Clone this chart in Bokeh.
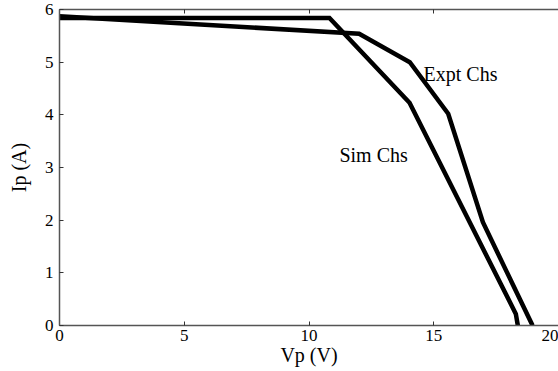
from bokeh.plotting import figure
from bokeh.models import Range1d, LinearAxis, FixedTicker, Label
from bokeh.embed import file_html
from bokeh.resources import INLINE

# Data
sim_v = [0.0, 10.82, 14.03, 18.29, 18.37]
sim_i = [5.84, 5.84, 4.23, 0.22, 0.0]
expt_v = [0.0, 12.01, 14.04, 15.58, 16.97, 18.96]
expt_i = [5.87, 5.54, 5.00, 4.02, 1.96, 0.0]
x_ticks = [0, 5, 10, 15, 20]
y_ticks = [0, 1, 2, 3, 4, 5, 6]

FONT = "Liberation Serif"

p = figure(width=558, height=371, output_backend="svg", toolbar_location=None,
           x_range=Range1d(0, 20.0), y_range=Range1d(0, 6.0),
           min_border_left=59, min_border_right=0, min_border_top=9,
           min_border_bottom=46, x_axis_location=None, y_axis_location=None)
p.grid.visible = False
p.outline_line_color = None
p.background_fill_color = "white"
p.border_fill_color = "white"

xa = LinearAxis(ticker=FixedTicker(ticks=x_ticks), axis_label="Vp (V)")
ya = LinearAxis(ticker=FixedTicker(ticks=y_ticks), axis_label="Ip (A)")
ta = LinearAxis(ticker=FixedTicker(ticks=x_ticks))
for ax in (xa, ya, ta):
    ax.axis_line_color = "#555555"
    ax.axis_line_width = 1.5
    ax.major_tick_line_color = "#333333"
    ax.major_tick_in = 4
    ax.major_tick_out = 0
    ax.minor_tick_line_color = None
    ax.major_label_text_font = FONT
    ax.major_label_text_font_size = "17px"
    ax.major_label_text_color = "black"
    ax.axis_label_text_font = FONT
    ax.axis_label_text_font_size = "20px"
    ax.axis_label_text_font_style = "normal"
    ax.axis_label_text_color = "black"
ta.major_label_text_color = None
ta.major_label_standoff = 0
xa.major_label_standoff = 4
xa.axis_label_standoff = 0
ya.major_label_standoff = 6
ya.axis_label_standoff = 12
p.add_layout(xa, "below")
p.add_layout(ya, "left")
p.add_layout(ta, "above")

p.line(sim_v, sim_i, line_color="black", line_width=4.5, line_join="miter")
p.line(expt_v, expt_i, line_color="black", line_width=4.5, line_join="miter")

p.add_layout(Label(x=14.59, y=4.78, text="Expt Chs", text_font=FONT,
                   text_font_size="20px", text_color="black", text_baseline="alphabetic"))
p.add_layout(Label(x=11.22, y=3.23, text="Sim Chs", text_font=FONT,
                   text_font_size="20px", text_color="black", text_baseline="alphabetic"))

open("out.html", "w").write(file_html(p, INLINE))
